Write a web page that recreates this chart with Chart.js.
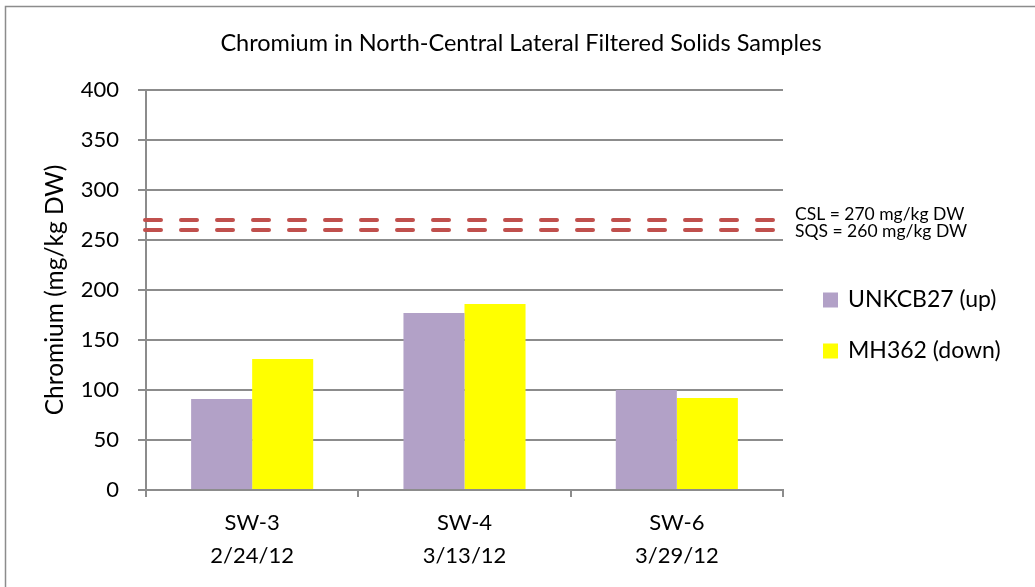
<!DOCTYPE html>
<html>
<head>
<meta charset="utf-8">
<script src="https://cdn.jsdelivr.net/npm/chart.js@4.4.1/dist/chart.umd.min.js"></script>
<style>
  html, body { margin: 0; padding: 0; background: #fff; }
  #wrap { position: relative; width: 1035px; height: 587px; }
</style>
</head>
<body>
<div id="wrap"><canvas id="chart" width="1035" height="587"></canvas></div>
<script>
// Sampling events (site / date)
const categories = [['SW-3', '2/24/12'], ['SW-4', '3/13/12'], ['SW-6', '3/29/12']];

// Chromium, mg/kg dry weight
const upstreamLabel = 'UNKCB27 (up)';
const upstreamValues = [91, 177, 100];
const downstreamLabel = 'MH362 (down)';
const downstreamValues = [131, 186, 92];

// Sediment screening criteria
const criteriaValues = [270, 260];
const criteriaLabels = ['CSL = 270 mg/kg DW', 'SQS = 260 mg/kg DW'];

const yTicks = [0, 50, 100, 150, 200, 250, 300, 350, 400];

const chartTitle = 'Chromium in North-Central Lateral Filtered Solids Samples';

const FONT = 'Lato, "Open Sans", sans-serif';
const GRID = '#8c8c8c';

// Outer frame and the title centred across the whole object
const framePlugin = {
  id: 'frame',
  beforeDraw(chart) {
    const ctx = chart.ctx;
    ctx.save();
    ctx.fillStyle = '#fff';
    ctx.fillRect(0, 0, chart.width, chart.height);
    ctx.strokeStyle = '#8c8c8c';
    ctx.lineWidth = 1.5;
    ctx.beginPath();
    ctx.moveTo(5.5, chart.height + 5);
    ctx.lineTo(5.5, 6.5);
    ctx.lineTo(chart.width + 5, 6.5);
    ctx.stroke();
    ctx.fillStyle = '#000';
    ctx.font = '23.5px ' + FONT;
    ctx.textAlign = 'center';
    ctx.textBaseline = 'middle';
    ctx.fillText(chartTitle, 521, 43);
    ctx.restore();
  }
};

// Dashed criteria lines with their labels on the right
const criteriaPlugin = {
  id: 'criteria',
  afterDatasetsDraw(chart) {
    const { ctx, chartArea, scales } = chart;
    ctx.save();
    ctx.strokeStyle = '#C0504D';
    ctx.lineWidth = 4;
    ctx.lineCap = 'round';
    ctx.setLineDash([16, 20]);
    criteriaValues.forEach(v => {
      const y = scales.y.getPixelForValue(v);
      ctx.beginPath();
      ctx.moveTo(chartArea.left - 1, y);
      ctx.lineTo(chartArea.right - 8, y);
      ctx.stroke();
    });
    ctx.setLineDash([]);
    ctx.fillStyle = '#000';
    ctx.font = '17.5px ' + FONT;
    ctx.textBaseline = 'middle';
    ctx.textAlign = 'left';
    const y0 = scales.y.getPixelForValue(criteriaValues[0]);
    ctx.fillText(criteriaLabels[0], chartArea.right + 12, y0 - 6);
    ctx.fillText(criteriaLabels[1], chartArea.right + 12, y0 + 11);
    ctx.restore();
  }
};

// Legend drawn to the right of the plot
const sideLegendPlugin = {
  id: 'sideLegend',
  afterDraw(chart) {
    const { ctx, chartArea } = chart;
    ctx.save();
    ctx.font = '23px ' + FONT;
    ctx.textBaseline = 'middle';
    ctx.textAlign = 'left';
    const x = chartArea.right + 40;
    chart.data.datasets.forEach((ds, i) => {
      const cy = 300 + i * 51;
      ctx.fillStyle = ds.backgroundColor;
      ctx.fillRect(x, cy - 7.5, 15, 15);
      ctx.fillStyle = '#000';
      ctx.fillText(ds.label, x + 25, cy);
    });
    ctx.restore();
  }
};

new Chart(document.getElementById('chart'), {
  type: 'bar',
  data: {
    labels: categories,
    datasets: [
      { label: upstreamLabel, data: upstreamValues, backgroundColor: '#B2A1C7' },
      { label: downstreamLabel, data: downstreamValues, backgroundColor: '#FFFF00' }
    ]
  },
  options: {
    responsive: false,
    animation: false,
    layout: { padding: { left: 0, right: 252, top: 90, bottom: 0 } },
    datasets: { bar: { categoryPercentage: 0.575, barPercentage: 1.0 } },
    plugins: {
      legend: { display: false },
      tooltip: { enabled: false },
      title: { display: false }
    },
    scales: {
      x: {
        grid: { display: true, drawOnChartArea: false, drawTicks: true, tickLength: 7, color: GRID, lineWidth: 2, offset: true },
        border: { display: true, color: GRID, width: 2 },
        ticks: { color: '#000', font: { family: FONT, size: 22, lineHeight: 1.5 }, padding: 9, maxRotation: 0 },
        afterFit(scale) { scale.height = 97; }
      },
      y: {
        min: 0,
        max: 400,
        afterBuildTicks(scale) { scale.ticks = yTicks.map(v => ({ value: v })); },
        grid: { color: GRID, lineWidth: 2, drawTicks: true, tickLength: 8 },
        border: { display: true, color: GRID, width: 2 },
        ticks: { color: '#000', font: { family: FONT, size: 22 }, padding: 19 },
        title: {
          display: true,
          text: 'Chromium (mg/kg DW)',
          color: '#000',
          font: { family: FONT, size: 24.5, weight: 'normal', lineHeight: 1.2 },
          padding: { top: 40, bottom: 0 }
        },
        afterFit(scale) { scale.width = 146; }
      }
    }
  },
  plugins: [framePlugin, criteriaPlugin, sideLegendPlugin]
});
</script>
</body>
</html>
